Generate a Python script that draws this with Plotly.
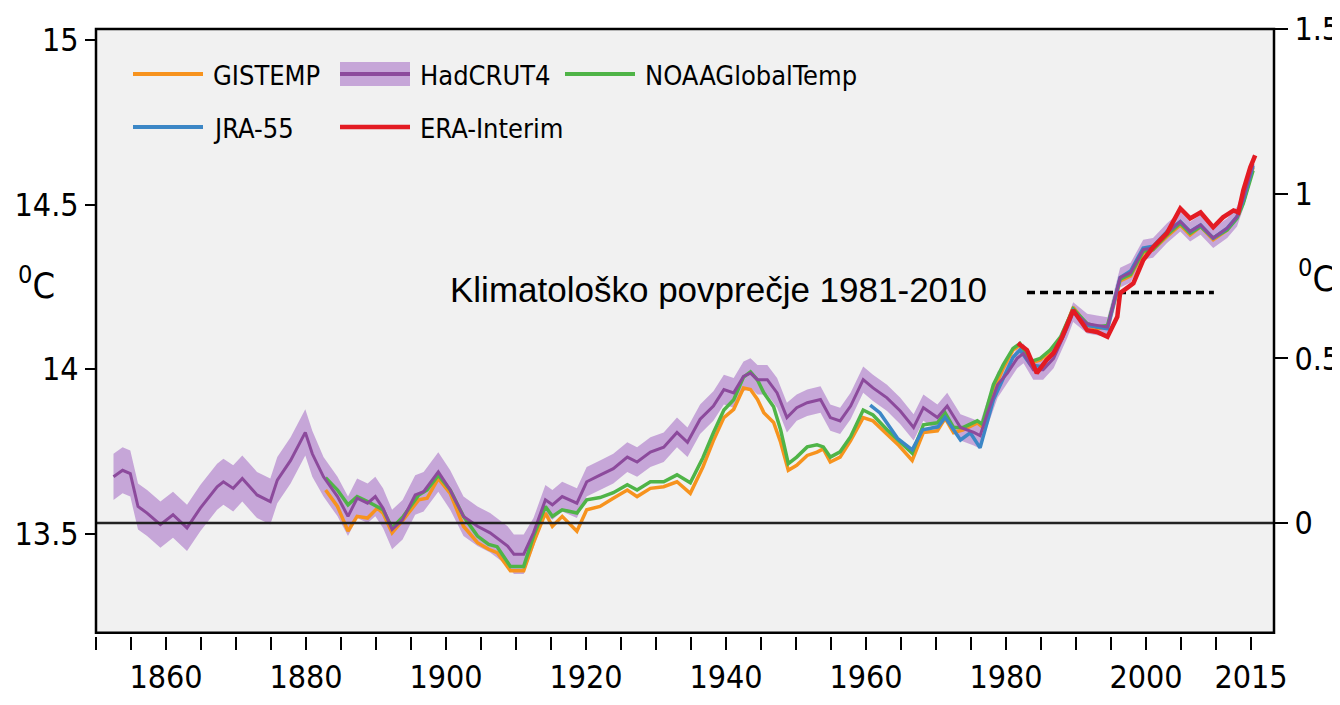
import plotly.graph_objects as go

# ---------------- data (anomaly, degC, right axis) ----------------
hadcrut_years = [1852.5,1853.8,1854.9,1856.0,1857.3,1859.2,1861.0,1863.0,1864.9,1867.3,1868.2,1869.6,1870.9,1873.0,1874.9,1875.9,1877.8,1879.9,1880.9,
                 1882.5,1884.5,1886.0,1887.3,1888.8,1889.9,1891.0,1892.3,1893.8,1895.6,1896.8,1898.9,1900.6,1902.5,1904.5,1906.3,1908.8,1909.7,1911.1,
                 1912.5,1914.2,1915.2,1916.6,1918.7,1920.1,1922.0,1923.9,1925.9,1927.3,1929.2,1931.1,1933.0,1934.5,1936.3,1938.2,1939.7,1941.1,1942.5,1943.5,1944.5,1945.9,1947.3,1948.7,
                 1950.1,1951.6,1953.5,1954.9,1956.3,1957.8,1959.6,1961.0,1963.0,1964.9,1966.8,1968.2,1970.2,1971.6,1973.5,1975.4,1976.3,1977.3,1978.8,
                 1980.2,1981.6,1982.5,1983.9,1985.3,1986.8,1988.8,1989.6,1991.6,1993.0,1994.5,1996.3,1997.8,1999.6,2001.0,2003.0,2004.9,2006.3,2007.8,2009.6,2011.6,2013.0,2013.9,2015.3]
hadcrut_vals = [0.14,0.16,0.15,0.05,0.03,-0.005,0.025,-0.015,0.045,0.11,0.125,0.105,0.135,0.085,0.065,0.13,0.19,0.275,0.21,
                0.14,0.08,0.02,0.075,0.06,0.08,0.045,-0.02,0.01,0.085,0.095,0.155,0.10,0.02,-0.01,-0.03,-0.07,-0.095,-0.095,
                -0.03,0.07,0.055,0.08,0.06,0.125,0.145,0.165,0.20,0.185,0.215,0.23,0.275,0.245,0.315,0.355,0.405,0.395,0.445,0.455,0.435,0.435,0.395,0.32,
                0.35,0.365,0.375,0.32,0.31,0.355,0.435,0.41,0.38,0.34,0.29,0.35,0.32,0.355,0.29,0.275,0.265,0.33,0.42,
                0.455,0.50,0.515,0.465,0.465,0.50,0.595,0.64,0.605,0.60,0.595,0.745,0.76,0.83,0.835,0.88,0.915,0.885,0.905,0.865,0.895,0.93,0.985,1.09]
hadcrut_unc = [0.07,0.07,0.07,0.07,0.07,0.07,0.07,0.07,0.07,0.07,0.07,0.07,0.07,0.07,0.07,0.07,0.07,0.07,0.07,
               0.06,0.06,0.06,0.06,0.06,0.06,0.06,0.06,0.06,0.06,0.06,0.06,0.06,0.06,0.06,0.06,0.06,0.06,0.06,
               0.045,0.045,0.045,0.045,0.045,0.045,0.045,0.045,0.045,0.045,0.045,0.045,0.045,0.045,0.045,0.045,0.045,0.045,0.045,0.045,0.045,0.045,0.045,0.045,
               0.04,0.04,0.04,0.04,0.04,0.04,0.04,0.04,0.04,0.04,0.04,0.04,0.04,0.04,0.04,0.04,0.04,0.04,0.04,
               0.03,0.03,0.03,0.03,0.03,0.03,0.03,0.03,0.03,0.03,0.03,0.03,0.03,0.03,0.03,0.03,0.03,0.03,0.03,0.03,0.03,0.03,0.03,0.03]

surface_years = [1882.8,1884.5,1886.0,1887.3,1888.8,1890.2,1891.0,1892.3,1893.9,1896.1,1897.3,1898.9,1900.6,1902.5,1904.5,1906.1,1907.3,1909.2,1911.1,
                 1912.5,1914.2,1915.2,1916.6,1918.7,1920.1,1922.0,1923.9,1925.9,1927.3,1929.2,1931.1,1933.0,1934.9,1936.7,1938.2,1939.7,1941.1,1942.5,1943.5,1944.5,1945.4,1946.8,1947.8,1948.9,
                 1950.1,1951.6,1953.0,1953.9,1954.9,1956.3,1957.8,1959.6,1961.0,1963.0,1964.7,1966.6,1968.2,1970.2,1971.3,1972.5,1973.9,1975.9,1976.6,1978.2,1979.6,
                 1981.0,1982.0,1983.5,1984.9,1986.3,1987.8,1989.6,1991.6,1993.0,1994.5,1996.3,1997.8,1999.6,2001.0,2003.0,2004.9,2006.3,2007.8,2009.6,2011.6,2013.0,2013.9,2015.3]
gistemp_vals = [0.10,0.05,-0.025,0.02,0.015,0.045,0.03,-0.03,0.01,0.07,0.075,0.135,0.09,-0.01,-0.06,-0.08,-0.09,-0.145,-0.145,
                -0.06,0.03,-0.01,0.02,-0.025,0.04,0.05,0.075,0.10,0.08,0.105,0.11,0.125,0.09,0.17,0.25,0.32,0.345,0.41,0.405,0.375,0.335,0.305,0.245,0.16,
                0.175,0.205,0.215,0.225,0.185,0.20,0.25,0.32,0.31,0.27,0.235,0.19,0.275,0.28,0.318,0.274,0.283,0.304,0.292,0.40,0.47,
                0.525,0.54,0.485,0.495,0.52,0.555,0.655,0.60,0.59,0.595,0.735,0.75,0.82,0.83,0.87,0.905,0.875,0.90,0.86,0.89,0.93,0.975,1.08]
noaa_vals = [0.137,0.10,0.055,0.08,0.065,0.05,0.04,-0.015,0.02,0.085,0.10,0.145,0.10,0.02,-0.04,-0.065,-0.072,-0.132,-0.132,
             -0.04,0.05,0.02,0.04,0.03,0.07,0.077,0.092,0.116,0.10,0.125,0.125,0.146,0.122,0.198,0.274,0.343,0.374,0.443,0.459,0.434,0.395,0.353,0.283,0.18,
             0.20,0.231,0.237,0.231,0.20,0.216,0.262,0.343,0.328,0.283,0.25,0.212,0.298,0.304,0.334,0.29,0.29,0.31,0.30,0.42,0.48,
             0.53,0.545,0.49,0.50,0.525,0.565,0.65,0.605,0.595,0.60,0.74,0.755,0.825,0.83,0.875,0.91,0.88,0.90,0.865,0.89,0.925,0.97,1.07]

jra_years = [1960.6,1962.0,1964.5,1966.6,1968.1,1970.3,1971.3,1973.5,1974.9,1976.3,1978.2,1979.6,1981.0,1982.0,1983.5,1985.0,1986.5,1988.0,1989.6,
             1991.6,1993.0,1994.5,1996.3,1997.8,1999.6,2001.0,2003.0,2004.9,2006.3,2007.8,2009.6,2011.6,2013.0,2013.9,2015.3]
jra_vals = [0.358,0.334,0.257,0.222,0.283,0.292,0.321,0.252,0.274,0.228,0.374,0.44,0.503,0.525,0.48,0.475,0.51,0.56,0.645,
            0.60,0.595,0.59,0.745,0.765,0.835,0.84,0.885,0.915,0.885,0.905,0.865,0.895,0.93,0.98,1.085]

era_years = [1981.7,1983.0,1984.4,1985.8,1986.8,1988.0,1989.6,1991.6,1993.0,1994.5,1995.9,1996.3,1998.2,1999.6,2001.0,2003.0,2004.9,2006.3,2007.8,2009.6,2011.0,2012.5,2013.2,2013.9,2014.9,2015.6]
era_vals = [0.546,0.525,0.455,0.495,0.516,0.564,0.646,0.585,0.58,0.565,0.626,0.698,0.728,0.798,0.837,0.88,0.955,0.925,0.943,0.898,0.928,0.949,0.943,1.01,1.08,1.116]

clim_years = [1983.0, 2009.7]
clim_value = 0.70
clim_label = "Klimatološko povprečje 1981-2010"

abs_offset = 13.5333          # left axis (absolute, degC) = anomaly + offset
left_ticks = [13.5, 14, 14.5, 15]
left_ticklabels = ["13.5", "14", "14.5", "15"]
right_ticks = [0, 0.5, 1, 1.5]
right_ticklabels = ["0", "0.5", "1", "1.5"]
x_label_years = [1860, 1880, 1900, 1920, 1940, 1960, 1980, 2000, 2015]
x_label_text = ["1860", "1880", "1900", "1920", "1940", "1960", "1980", "2000", "2015"]

legend_names = ["GISTEMP", "HadCRUT4", "NOAAGlobalTemp", "JRA-55", "ERA-Interim"]

# ---------------- style ----------------
C_ORANGE = "#F7931E"
C_PURPLE = "#8C4A9C"
C_BAND = "#C6A6D8"
C_GREEN = "#4FB447"
C_BLUE = "#3C87C6"
C_RED = "#E31B23"
NARROW = "Liberation Sans Narrow, Arial Narrow, DejaVu Sans Condensed, sans-serif"
TICK_SIZE = 32
LEG_SIZE = 27

OFF = 8                      # page body margin offset
W, H = 1340 - OFF, 705 - OFF
ML, MR, MT, MB = 96 - OFF, 66, 29 - OFF, 55
PW = W - ML - MR
PH = H - MT - MB
plot_bottom_px = 632.7
ydom0 = (705 - MB - plot_bottom_px) / PH
xaxis_pos = (705 - MB - 635.5) / PH
y2_range = [-0.3333, 1.5]

fig = go.Figure()

upper = [v + u for v, u in zip(hadcrut_vals, hadcrut_unc)]
lower = [v - u for v, u in zip(hadcrut_vals, hadcrut_unc)]
fig.add_trace(go.Scatter(x=hadcrut_years, y=upper, yaxis="y2", mode="lines",
                         line=dict(width=0, color=C_BAND), hoverinfo="skip"))
fig.add_trace(go.Scatter(x=hadcrut_years, y=lower, yaxis="y2", mode="lines", fill="tonexty",
                         fillcolor=C_BAND, line=dict(width=0, color=C_BAND), hoverinfo="skip"))

fig.add_trace(go.Scatter(x=surface_years, y=gistemp_vals, yaxis="y2", mode="lines", name="GISTEMP",
                         line=dict(color=C_ORANGE, width=3.5)))
fig.add_trace(go.Scatter(x=surface_years, y=noaa_vals, yaxis="y2", mode="lines", name="NOAAGlobalTemp",
                         line=dict(color=C_GREEN, width=3.5)))
fig.add_trace(go.Scatter(x=jra_years, y=jra_vals, yaxis="y2", mode="lines", name="JRA-55",
                         line=dict(color=C_BLUE, width=3.5)))
fig.add_trace(go.Scatter(x=hadcrut_years, y=hadcrut_vals, yaxis="y2", mode="lines", name="HadCRUT4",
                         line=dict(color=C_PURPLE, width=3)))
fig.add_trace(go.Scatter(x=era_years, y=era_vals, yaxis="y2", mode="lines", name="ERA-Interim",
                         line=dict(color=C_RED, width=4.5)))
# climatological mean, drawn on the absolute (left) axis
fig.add_trace(go.Scatter(x=clim_years, y=[clim_value + abs_offset] * 2, yaxis="y", mode="lines",
                         line=dict(color="black", width=3.5, dash="8px,5px"), hoverinfo="skip"))

shapes = [
    dict(type="line", xref="paper", x0=0, x1=1, yref="y2", y0=0, y1=0,
         line=dict(color="#222", width=2.5), layer="above"),
    dict(type="rect", xref="paper", yref="paper", x0=0, x1=1, y0=ydom0, y1=1,
         line=dict(color="black", width=2.5), layer="above"),
]

def px_x(px):
    return (px - OFF - ML) / PW

def px_y(py):
    return (705 - MB - py) / PH

legend_items = [
    (legend_names[0], C_ORANGE, 133, 74),
    (legend_names[1], C_PURPLE, 340, 74),
    (legend_names[2], C_GREEN, 565, 74),
    (legend_names[3], C_BLUE, 133, 127),
    (legend_names[4], C_RED, 340, 127),
]
annotations = []
for name, col, x0, yy in legend_items:
    x1 = x0 + 70
    if name == "HadCRUT4":
        shapes.append(dict(type="rect", xref="paper", yref="paper", x0=px_x(x0), x1=px_x(x1),
                           y0=px_y(yy + 12), y1=px_y(yy - 12), fillcolor=C_BAND, line=dict(width=0)))
    shapes.append(dict(type="line", xref="paper", yref="paper", x0=px_x(x0), x1=px_x(x1),
                       y0=px_y(yy), y1=px_y(yy), line=dict(color=col, width=4.5 if name == "ERA-Interim" else 4)))
    annotations.append(dict(text=name, xref="paper", yref="paper", x=px_x(x1 + 8), y=px_y(yy + 1),
                            xanchor="left", yanchor="middle", showarrow=False,
                            font=dict(family=NARROW, size=LEG_SIZE, color="black")))

annotations.append(dict(text=clim_label, xref="x", yref="y2", x=1977.5, y=clim_value + 0.01,
                        xanchor="right", yanchor="middle", showarrow=False,
                        font=dict(family="Liberation Sans, Arial, sans-serif", size=35, color="black")))
annotations.append(dict(text="<sup>0</sup>C", xref="paper", yref="paper", x=px_x(36), y=px_y(283),
                        xanchor="center", yanchor="middle", showarrow=False,
                        font=dict(family=NARROW, size=36, color="black")))
annotations.append(dict(text="<sup>0</sup>C", xref="paper", yref="paper", x=px_x(1316), y=px_y(276),
                        xanchor="center", yanchor="middle", showarrow=False,
                        font=dict(family=NARROW, size=36, color="black")))

fig.update_layout(
    width=W, height=H,
    margin=dict(l=ML, r=MR, t=MT, b=MB, autoexpand=False),
    plot_bgcolor="#F1F1F1", paper_bgcolor="white",
    showlegend=False,
    xaxis=dict(range=[1850, 1850 + PW / 7.0], anchor="free", position=xaxis_pos, automargin=False,
               tickmode="array", tickvals=x_label_years, ticktext=x_label_text,
               ticks="outside", ticklen=13, tickwidth=1.5, tickcolor="black",
               minor=dict(tick0=1850, dtick=5, ticks="outside", ticklen=13, tickwidth=1.5,
                          tickcolor="black", showgrid=False),
               showline=False, showgrid=False, zeroline=False,
               tickfont=dict(family=NARROW, size=TICK_SIZE, color="black")),
    yaxis=dict(range=[y2_range[0] + abs_offset, y2_range[1] + abs_offset], domain=[ydom0, 1],
               automargin=False,
               tickmode="array", tickvals=left_ticks, ticktext=left_ticklabels,
               ticks="outside", ticklen=10, tickwidth=1.5, tickcolor="black",
               showline=False, showgrid=False, zeroline=False,
               tickfont=dict(family=NARROW, size=TICK_SIZE, color="black")),
    yaxis2=dict(range=y2_range, overlaying="y", side="right", automargin=False,
                tickmode="array", tickvals=right_ticks, ticktext=right_ticklabels,
                ticks="outside", ticklen=13, tickwidth=1.5, tickcolor="black",
                showline=False, showgrid=False, zeroline=False,
                tickfont=dict(family=NARROW, size=TICK_SIZE, color="black")),
    shapes=shapes,
    annotations=annotations,
)

fig.write_html("out.html")
